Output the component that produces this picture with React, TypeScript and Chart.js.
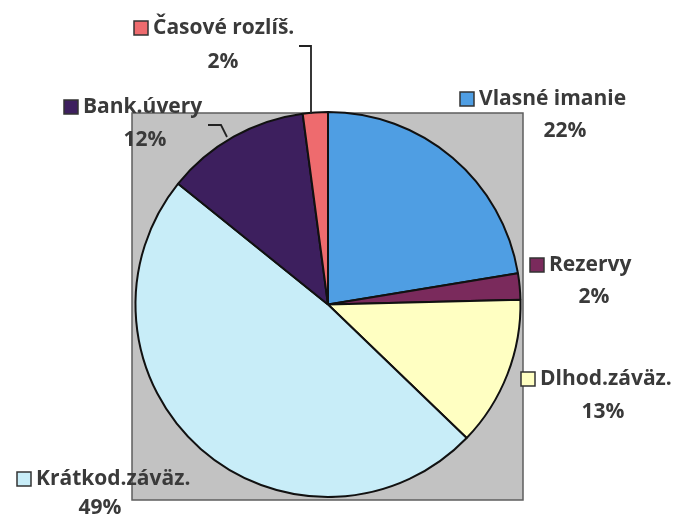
import React, { useEffect, useRef } from "react";
import { Chart, registerables } from "chart.js";

Chart.register(...registerables);

const categories = [
  "Vlasné imanie",
  "Rezervy",
  "Dlhod.záväz.",
  "Krátkod.záväz.",
  "Bank.úvery",
  "Časové rozlíš.",
];
const shares = [22.4, 2.2, 12.6, 48.6, 12.1, 2.1];
const sliceColors = ["#4f9ee3", "#7a2a5c", "#ffffc2", "#c8edf8", "#3d1f5e", "#ee6b6e"];

// label layout: legend-square top-left, percentage centre
const labelLayout = [
  { sx: 460, sy: 92, px: 565, py: 131 },
  { sx: 530, sy: 258, px: 594, py: 297 },
  { sx: 521, sy: 372, px: 603, py: 412 },
  { sx: 17, sy: 472, px: 100, py: 508 },
  { sx: 64, sy: 100, px: 145, py: 140 },
  { sx: 134, sy: 21, px: 223, py: 62 },
];

const FONT = "bold 21px 'Open Sans', sans-serif";
const TEXT = "#3a3a3a";

const bgPlugin = {
  id: "bgRect",
  beforeDatasetsDraw(chart: any) {
    const ctx = chart.ctx;
    ctx.save();
    ctx.fillStyle = "#c2c2c2";
    ctx.fillRect(132, 113, 391, 387);
    ctx.strokeStyle = "#5e5e5e";
    ctx.lineWidth = 1.5;
    ctx.strokeRect(132, 113, 391, 387);
    ctx.restore();
  },
};

const labelPlugin = {
  id: "sliceLabels",
  afterDraw(chart: any) {
    const ctx = chart.ctx;
    const total = shares.reduce((a, b) => a + b, 0);
    ctx.save();
    ctx.strokeStyle = "#222";
    ctx.lineWidth = 1.8;
    ctx.beginPath();
    ctx.moveTo(299, 46);
    ctx.lineTo(311, 46);
    ctx.lineTo(311, 114);
    ctx.stroke();
    ctx.beginPath();
    ctx.moveTo(208, 125);
    ctx.lineTo(221, 125);
    ctx.lineTo(227, 137);
    ctx.stroke();

    ctx.font = FONT;
    ctx.textBaseline = "middle";
    categories.forEach((name, i) => {
      const L = labelLayout[i];
      ctx.fillStyle = sliceColors[i];
      ctx.fillRect(L.sx, L.sy, 14, 14);
      ctx.strokeStyle = "#333";
      ctx.lineWidth = 1.5;
      ctx.strokeRect(L.sx, L.sy, 14, 14);
      ctx.fillStyle = TEXT;
      ctx.textAlign = "left";
      ctx.fillText(name, L.sx + 19, L.sy + 7);
      ctx.textAlign = "center";
      ctx.fillText(Math.round((shares[i] / total) * 100) + "%", L.px, L.py);
    });
    ctx.restore();
  },
};

export default function App() {
  const ref = useRef<HTMLCanvasElement>(null);
  useEffect(() => {
    document.body.style.margin = "0";
    const chart = new Chart(ref.current as HTMLCanvasElement, {
      type: "pie",
      data: {
        labels: categories,
        datasets: [
          {
            data: shares,
            backgroundColor: sliceColors,
            borderColor: "#111",
            borderWidth: 2,
          },
        ],
      },
      options: {
        animation: false,
        responsive: false,
        layout: { padding: { left: 133, right: 151, top: 111, bottom: 21 } },
        plugins: { legend: { display: false }, tooltip: { enabled: false } },
      },
      plugins: [bgPlugin, labelPlugin],
    });
    return () => chart.destroy();
  }, []);
  return (
    <div style={{ width: 674, height: 519, background: "#fff" }}>
      <canvas ref={ref} width={674} height={519} />
    </div>
  );
}
